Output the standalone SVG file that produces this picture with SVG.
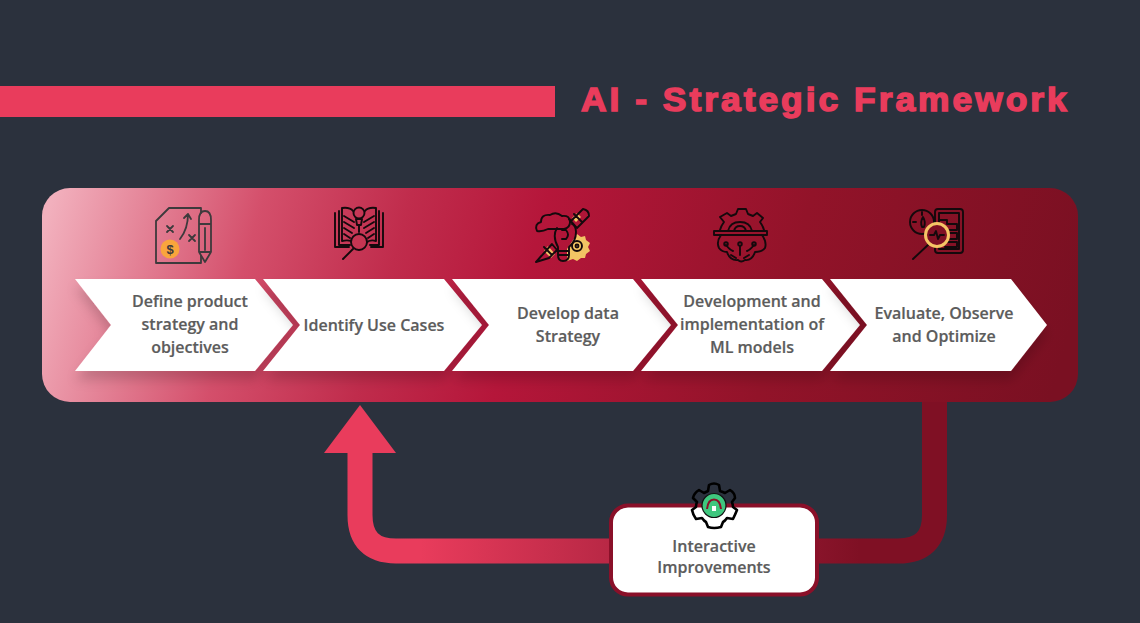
<svg xmlns="http://www.w3.org/2000/svg" width="1140" height="623" viewBox="0 0 1140 623">
<style>
.lbl{font-family:"Open Sans","Liberation Sans",sans-serif;font-weight:600;font-size:16px;fill:#5c5c5c;stroke:#5c5c5c;stroke-width:.2;text-anchor:middle}
.chev{fill:#fff;filter:url(#sh)}
.ic{fill:none;stroke:#14090c;stroke-width:1.900;stroke-linejoin:round;stroke-linecap:round}
.ic1{fill:none;stroke:#3d3a3c;stroke-width:1.800;stroke-linejoin:round;stroke-linecap:round}
.ico{fill:#f2c464}
</style>
<defs>
<linearGradient id="pg" gradientUnits="userSpaceOnUse" x1="60" y1="170" x2="1040" y2="440">
<stop offset="0" stop-color="#f2b0bd"/><stop offset=".2" stop-color="#d44f6b"/><stop offset=".34" stop-color="#c02c4c"/><stop offset=".47" stop-color="#b5163a"/><stop offset=".72" stop-color="#921329"/><stop offset="1" stop-color="#7a1022"/>
</linearGradient>
<linearGradient id="lg" gradientUnits="userSpaceOnUse" x1="420" y1="0" x2="860" y2="0">
<stop offset="0" stop-color="#e93c5c"/><stop offset=".6" stop-color="#a5203c"/><stop offset="1" stop-color="#7f1024"/>
</linearGradient>
<filter id="sh" x="-10%" y="-15%" width="120%" height="145%"><feDropShadow dx="0" dy="9" stdDeviation="6" flood-color="#000" flood-opacity=".16"/></filter>
</defs>
<rect width="1140" height="623" fill="#2b313d"/>
<g id="title">
<rect x="0" y="86" width="555" height="31" fill="#e93c5c"/>
<text transform="translate(581 111) scale(1.04 1)" font-family="'Liberation Sans',Arial,sans-serif" font-weight="700" font-size="34" letter-spacing="2.900" fill="#e93c5c" stroke="#e93c5c" stroke-width="1.500">AI - Strategic Framework</text>
</g>
<g id="connectors">
<path d="M934.500 395V515Q934.500 551 898 551H396Q360 551 360 515V450" fill="none" stroke="url(#lg)" stroke-width="25"/>
<path d="M360 405L396 453H324Z" fill="#e93c5c"/>
</g>
<g id="panel"><rect x="42" y="188" width="1036" height="214" rx="28" fill="url(#pg)"/></g>
<g id="node-1">
<path class="chev" d="M75 279H255L293 325L255 371H75L111 325Z"/>
<text class="lbl"><tspan x="190" y="307">Define product</tspan><tspan x="190" y="330">strategy and</tspan><tspan x="190" y="353">objectives</tspan></text>
<path class="ic1" d="M169 208H201M156 221V263H201M156 221L169 208M201 208V213M201 256V263"/>
<path class="ic1" d="M180 239Q188 229 188 214M184 218L188 214L191 219M167 226L173 232M173 226L167 232M189 235L195 241M195 235L189 241"/>
<circle cx="170" cy="249" r="9.500" fill="#f9a53c"/>
<text x="170" y="254" font-family="'Liberation Sans',sans-serif" font-weight="700" font-size="13" fill="#3d3a3c" text-anchor="middle">$</text>
<path class="ic1" d="M199 220Q199 211 205 211Q211 211 211 220V252L205 262L199 252ZM199 224H211M205 228V250M199 252H211"/>
</g>
<g id="node-2">
<path class="chev" d="M263 279H444L482 325L444 371H263L300 325Z"/>
<text class="lbl" x="374" y="331">Identify Use Cases</text>
<path class="ic" d="M339 211V245H350M379 211V245H370M342 208V241Q350 239 354 243M376 208V241Q370 239 366 243M342 208Q350 207 353 211M376 208Q368 207 365 211M335 213V247H349M383 213V247H371M344 216L354 222M344 222L354 228M344 228L352 233M344 234L350 238M374 216L364 222M374 222L364 228M374 228L366 233M374 234L368 238"/>
<circle cx="359" cy="213" r="5.500" class="ic"/>
<path class="ic" d="M356 219H362L361 225H357ZM359 225V232"/>
<circle cx="359" cy="242" r="8" class="ic" style="fill:#c53552" stroke-width="2.400"/>
<path class="ic" stroke-width="3.200" d="M353 249L343 259"/>
</g>
<g id="node-3">
<path class="chev" d="M452 279H633L671 325L633 371H452L489 325Z"/>
<text class="lbl"><tspan x="568" y="319">Develop data</tspan><tspan x="568" y="342">Strategy</tspan></text>
<path d="M577 234l4 3 4-1 1 4 4 3-2 4 2 4-4 3-1 4-4 0-4 3-4-2-6 2 0-12 4-6Z" class="ico"/>
<path d="M572 218l5-5 4 4-5 5ZM548 246l7 8-4 4-7-7Z" class="ico"/>
<path class="ic" d="M570 222L583 209Q589 210 589 216L577 228M574 214L582 222M569 219L576 227M545 252L536 262L549 258L557 250L552 244ZM536 262L541 256M544 247L552 255"/>
<path class="ic" d="M557 228Q552 236 558 247V255H569V247Q576 241 576 232Q576 226 572 224M557 251H569M558 255Q558 261 563 261Q569 261 569 255M562 230H566Q570 235 566 239H562"/>
<path class="ic" d="M537 231Q534 224 541 222Q541 214 550 215Q556 211 562 216Q570 215 570 222Q570 228 564 229H548Q542 232 537 231Z" fill="#b7163a"/>
<circle cx="577" cy="246" r="5" class="ic"/><circle cx="577" cy="246" r="1.500" class="ic"/>
</g>
<g id="node-4">
<path class="chev" d="M641 279H822L860 325L822 371H641L678 325Z"/>
<text class="lbl"><tspan x="752" y="307">Development and</tspan><tspan x="752" y="330">implementation of</tspan><tspan x="752" y="353">ML models</tspan></text>
<path class="ic" d="M720 230Q721 226 724 222L720 217L727 213L731 216L736 214L738 209H746L748 214L753 216L757 213L763 218L760 222Q763 226 764 230M714 235H767V231H714ZM728 231Q730 222 740 222Q750 222 752 231M734 231Q735 226 740 226Q745 226 746 231"/>
<path class="ic" d="M721 235Q716 242 719 248Q722 252 727 252Q730 261 738 260Q741 263 745 260Q752 261 755 252Q762 252 765 248Q767 242 762 235M726 245Q730 250 733 251M740 246V255M754 245Q750 250 747 251M731 255L736 258M749 255L744 258"/>
<circle cx="726" cy="244" r="1.800" class="ic"/><circle cx="740" cy="244" r="1.800" class="ic"/><circle cx="754" cy="244" r="1.800" class="ic"/>
</g>
<g id="node-5">
<path class="chev" d="M830 279H1011L1047 325L1011 371H830L867 325Z"/>
<text class="lbl"><tspan x="944" y="319">Evaluate, Observe</tspan><tspan x="944" y="342">and Optimize</tspan></text>
<rect x="935" y="209" width="28" height="44" rx="3" class="ic"/>
<rect x="939" y="213" width="20" height="36" class="ic" stroke-width="1.200"/>
<path class="ic" stroke-width="1.200" d="M939 220H947V224H957V230H948M950 233H957V239H950M948 242H957V247H945"/>
<circle cx="922" cy="222" r="12" class="ic"/>
<path class="ic" stroke-width="1.200" d="M922 215V212M913 222H916M922 227Q920 222 923 217Q926 222 924 227Z"/>
<path class="ic" stroke-width="4" d="M929 244L913 259"/>
<circle cx="937" cy="235" r="11.500" fill="#7f1024" stroke="#f6c566" stroke-width="3"/>
<path class="ic" stroke-width="1.100" d="M930 235H934L936 231L938 239L940 235H944"/>
</g>
<g id="node-6">
<rect x="611" y="505.500" width="206" height="89" rx="17" fill="#fff" stroke="#8a1029" stroke-width="4"/>
<text class="lbl"><tspan x="714" y="552">Interactive</tspan><tspan x="714" y="573">Improvements</tspan></text>
<path d="M709 485Q714 482 719 485L720 491Q723 492 725 493L730 490Q735 493 735 498L732 502Q733 505 733 507L737 510Q735 515 733 519L727 518Q725 521 723 522L721 527Q714 529 708 527L706 522Q704 521 702 518L696 519Q693 515 692 510L696 507Q696 504 697 502L693 498Q694 493 699 490L704 493Q706 492 708 491Z" fill="none" stroke="#000" stroke-width="2.600" stroke-linejoin="round"/>
<circle cx="714" cy="505.500" r="12" fill="#3fc77e" stroke="#111" stroke-width="1.200"/>
<path d="M707 509Q708 499.500 714 499.500Q720 499.500 721 509" fill="none" stroke="#8a1029" stroke-width="2"/>
<rect x="712" y="506" width="4" height="5" fill="#fff"/>
</g>
</svg>
